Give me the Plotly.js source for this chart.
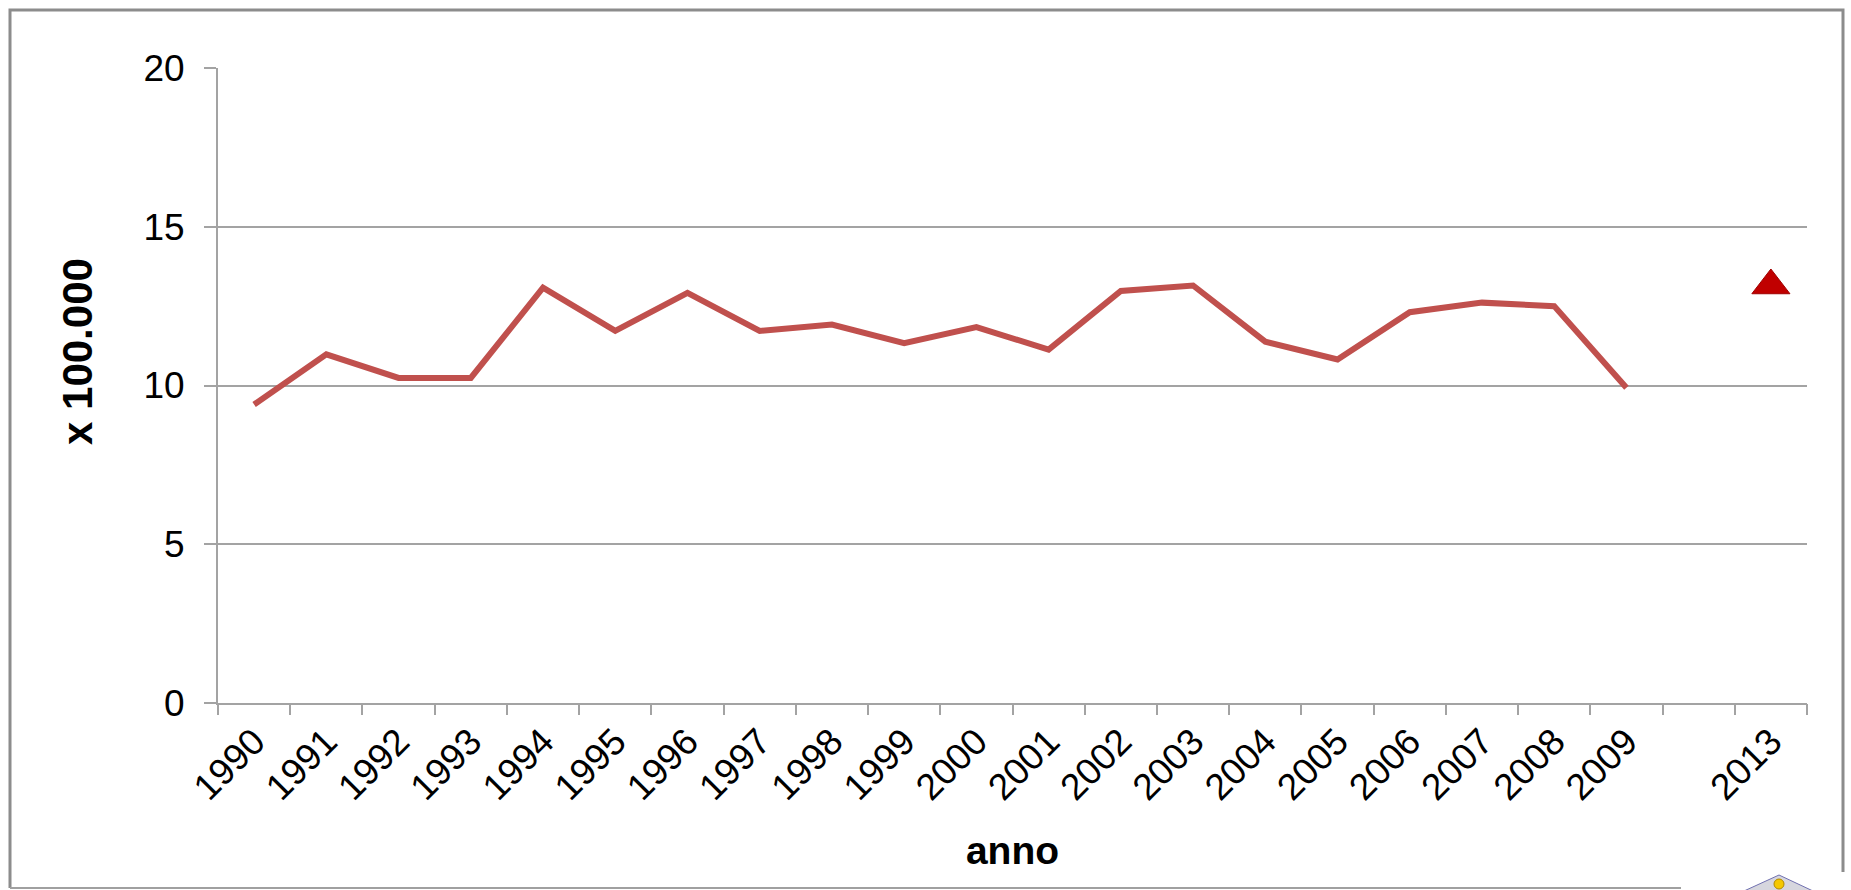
<!DOCTYPE html>
<html>
<head>
<meta charset="utf-8">
<script src="https://cdn.plot.ly/plotly-3.0.1.min.js"></script>
<style>
  html, body { margin: 0; padding: 0; background: #ffffff; }
  #chart { width: 1851px; height: 890px; }
</style>
</head>
<body>
<div id="chart"></div>
<script>
// ---- data ----
const categories = ['1990','1991','1992','1993','1994','1995','1996','1997','1998','1999',
                    '2000','2001','2002','2003','2004','2005','2006','2007','2008','2009','','2013'];
const years = ['1990','1991','1992','1993','1994','1995','1996','1997','1998','1999',
               '2000','2001','2002','2003','2004','2005','2006','2007','2008','2009'];
const values = [9.40, 10.98, 10.24, 10.24, 13.08, 11.72, 12.92, 11.72, 11.92, 11.33,
                11.84, 11.13, 12.98, 13.15, 11.38, 10.82, 12.31, 12.61, 12.50, 9.93];
const targetYears = ['2013'];
const targetValues = [13.15];
const yTicks = [0, 5, 10, 15, 20];
const xTitle = 'anno';
const yTitle = 'x 100.000';

// ---- layout helpers ----
const W = 1851, H = 890;
const M = { l: 218, r: 44, t: 68, b: 187 };
const PW = W - M.l - M.r, PH = H - M.t - M.b;
const px = v => (v - M.l) / PW;          // pixel x -> paper
const py = v => (H - M.b - v) / PH;      // pixel y -> paper

const idx = arr => arr.map(c => categories.indexOf(c));
const centers = categories.map((c, i) => i);
const bounds = categories.map((c, i) => i - 0.5).concat([categories.length - 0.5]);

const grey = '#a3a3a3';
const font = 'Liberation Sans, Arial, sans-serif';

const traces = [
  {
    type: 'scatter', mode: 'lines',
    x: idx(years), y: values,
    line: { color: '#C0504D', width: 6, shape: 'linear' },
    hoverinfo: 'y', showlegend: false
  },
  {
    type: 'scatter', mode: 'markers',
    x: idx(targetYears), y: targetValues,
    marker: { symbol: 'triangle-up', size: 33, color: '#C00000', line: { color: '#A00000', width: 1 } },
    hoverinfo: 'y', showlegend: false
  },
  {
    type: 'scatter', mode: 'markers', xaxis: 'x2', yaxis: 'y',
    x: [], y: [], showlegend: false, hoverinfo: 'skip'
  }
];

const layout = {
  width: W, height: H,
  margin: M,
  paper_bgcolor: '#ffffff', plot_bgcolor: '#ffffff',
  font: { family: font, color: '#000000' },
  showlegend: false,
  xaxis: {
    type: 'linear',
    range: [-0.5, categories.length - 0.5],
    tickmode: 'array', tickvals: centers, ticktext: categories,
    ticks: '', tickangle: -45,
    tickfont: { family: font, size: 37, color: '#000' },
    showgrid: false, zeroline: false,
    showline: true, linecolor: grey, linewidth: 2,
    title: { text: xTitle, font: { family: font, size: 39, color: '#000', weight: 'bold' }, standoff: 30 },
    fixedrange: true
  },
  xaxis2: {
    overlaying: 'x', anchor: 'y', side: 'bottom',
    type: 'linear',
    range: [-0.5, categories.length - 0.5],
    tickmode: 'array', tickvals: bounds, ticktext: bounds.map(() => ''),
    ticks: 'outside', ticklen: 11, tickwidth: 2, tickcolor: grey,
    showticklabels: false, showgrid: false, zeroline: false, showline: false,
    fixedrange: true
  },
  yaxis: {
    range: [0, 20],
    tickmode: 'array', tickvals: yTicks, ticktext: yTicks.map(String),
    ticks: 'outside', ticklen: 12, tickwidth: 2, tickcolor: grey,
    ticklabelstandoff: 12,
    tickfont: { family: font, size: 37, color: '#000' },
    showgrid: true, gridcolor: grey, gridwidth: 2,
    zeroline: false,
    showline: true, linecolor: grey, linewidth: 2,
    fixedrange: true
  },
  annotations: [
    { text: yTitle, textangle: -90, xref: 'paper', yref: 'paper',
      x: px(77), y: py(352), xanchor: 'center', yanchor: 'middle', showarrow: false,
      font: { family: font, size: 42, color: '#000', weight: 'bold' } }
  ],
  shapes: [
    // outer frame (left, top, right)
    { type: 'path', xref: 'paper', yref: 'paper',
      path: `M ${px(10)} ${py(888)} L ${px(10)} ${py(10)} L ${px(1843)} ${py(10)} L ${px(1843)} ${py(872)}`,
      line: { color: '#8c8c8c', width: 3 } },
    // bottom frame segment
    { type: 'line', xref: 'paper', yref: 'paper',
      x0: px(10), x1: px(1681), y0: py(888), y1: py(888),
      line: { color: '#a0a0a0', width: 2 } },
    // small logo at bottom right
    { type: 'path', xref: 'paper', yref: 'paper',
      path: `M ${px(1744)} ${py(891)} L ${px(1779)} ${py(875)} L ${px(1813)} ${py(891)} Z`,
      fillcolor: '#d6d6de', line: { color: '#7070b0', width: 1 } },
    { type: 'circle', xref: 'paper', yref: 'paper',
      x0: px(1774), x1: px(1784), y0: py(889), y1: py(879),
      fillcolor: '#f5c800', line: { color: '#b08a00', width: 1 } }
  ]
};

Plotly.newPlot('chart', traces, layout, { staticPlot: true, displayModeBar: false });
</script>
</body>
</html>
